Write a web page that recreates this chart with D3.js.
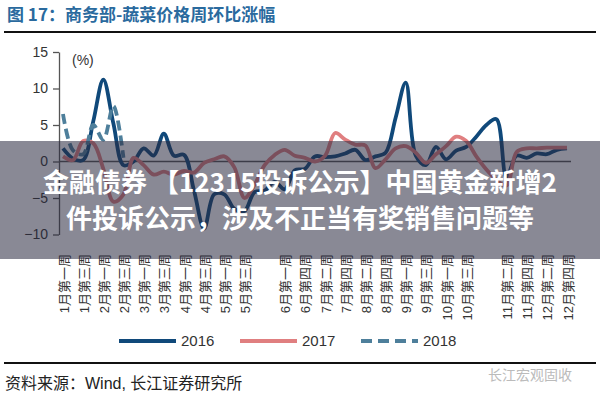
<!DOCTYPE html>
<html>
<head>
<meta charset="utf-8">
<script src="https://cdn.jsdelivr.net/npm/d3@7/dist/d3.min.js"></script>
<style>
  html, body { margin: 0; padding: 0; background: #fff; }
  svg { display: block; font-family: "Liberation Sans", Arial, "Noto Sans CJK SC", sans-serif; }
</style>
</head>
<body>
<svg id="chart" width="600" height="400"></svg>
<script>
// ---- data ----
const titleText = "图 17：商务部-蔬菜价格周环比涨幅";
const unitLabel = "(%)";
const sourceText = "资料来源：Wind, 长江证券研究所";
const watermarkText = "长江宏观固收";
const bannerLines = ["金融债券 【12315投诉公示】中国黄金新增2", "件投诉公示，涉及不正当有奖销售问题等"];

// weekly categories (index of week), labels shown on every second week
const weekIndex = d3.range(51);
const tickLabels = ["1月第一周","1月第三周","2月第一周","2月第三周","3月第一周","3月第三周",
  "4月第一周","4月第三周","5月第一周","5月第三周","","6月第一周","6月第四周","7月第二周",
  "7月第四周","8月第二周","8月第四周","9月第一周","9月第三周","10月第一周","10月第三周","",
  "11月第二周","11月第四周","12月第二周","12月第四周"];
const yTicks = [-10, -5, 0, 5, 10, 15];

const seriesNames = ["2016", "2017", "2018"];
const values2016 = [1.8, 0.4, 0.2, 5.5, 11.2, 5.2, -0.5, 0.0, 1.8, 0.8,
  3.8, 0.8, 0.9, -4.0, -9.2, -4.5, -4.5, -6.5, -6.8, -4.2,
  -4.0, -2.8, -3.8, -1.2, -1.0, 0.7, 0.6, 0.7, 1.1, 1.6,
  0.2, 0.7, 1.2, 6.0, 10.8, 0.8, -0.5, 2.0, 0.3, 1.5,
  2.0, 3.4, 5.0, 5.8, -2.2, 0.8, 0.5, 1.1, 1.0, 1.6, 1.8];
const values2017 = [0.7, 0.2, 2.8, 2.5, -1.0, -5.5, -4.5, 0.5, -0.5, -1.8,
  -1.4, -1.8, -1.3, -1.5, -0.2, 0.3, 0.7, -0.8, -5.0, -3.2,
  -0.5, 0.9, 1.6, 0.8, 0.5, 0.0, 0.8, 3.9, 3.0, 2.3,
  2.2, -0.9, 0.3, 1.8, 2.1, 1.2, -0.2, 1.0, 2.1, 3.4,
  2.8, 0.7, -1.1, -2.5, -3.3, 1.3, 1.8, 1.8, 1.9, 1.9, 1.9];
const values2018 = [6.5, 1.5, 1.0, 5.0, 3.0, 7.6, 0.5];

// ---- drawing ----
const svg = d3.select("#chart");
const colors = { "2016": "#10497a", "2017": "#e07f80", "2018": "#4e7f9b" };

const x = d3.scalePoint().domain(weekIndex).range([63, 567]);
const y = d3.scaleLinear().domain([-10, 15]).range([234.5, 52]);

// title
svg.append("text").attr("x", 7).attr("y", 21)
  .attr("font-size", 17).attr("font-weight", "bold").attr("fill", "#2a6a9e")
  .attr("font-family", "'Noto Sans CJK SC', sans-serif")
  .text(titleText);
svg.append("line").attr("x1", 4).attr("x2", 596).attr("y1", 32).attr("y2", 32)
  .attr("stroke", "#111").attr("stroke-width", 2);

// y axis
const yAxis = svg.append("g").attr("transform", "translate(59,0)")
  .call(d3.axisLeft(y).tickValues(yTicks).tickSize(6).tickSizeOuter(0).tickPadding(5)
        .tickFormat(d3.format("d")));
yAxis.selectAll("text").attr("font-size", 14).attr("fill", "#333")
  .attr("font-family", "'Liberation Sans', Arial, sans-serif");
yAxis.selectAll("line").attr("stroke", "#555").attr("stroke-width", 1.3);
yAxis.select(".domain").attr("stroke", "#555").attr("stroke-width", 1.3);

svg.append("text").attr("x", 72).attr("y", 65).attr("font-size", 14).attr("fill", "#333")
  .text(unitLabel);

// zero line
svg.append("line").attr("x1", 59).attr("x2", 571).attr("y1", y(0)).attr("y2", y(0))
  .attr("stroke", "#555").attr("stroke-width", 1.3);

// x tick labels (rotated)
const xLab = svg.append("g");
weekIndex.filter(i => i % 2 === 0).forEach(i => {
  const lbl = tickLabels[i / 2];
  if (!lbl) return;
  xLab.append("text")
    .attr("transform", `translate(${x(i) + 1},254) rotate(-90)`)
    .attr("text-anchor", "end").attr("dy", "0.35em")
    .attr("font-size", 13).attr("fill", "#333")
    .text(lbl);
});

// lines
const line = d3.line().x((d, i) => x(weekIndex[i])).y(d => y(d))
  .curve(d3.curveCatmullRom.alpha(0.5));
const seriesData = { "2016": values2016, "2017": values2017, "2018": values2018 };
seriesNames.forEach(name => {
  svg.append("path").datum(seriesData[name])
    .attr("d", line).attr("fill", "none")
    .attr("stroke", colors[name]).attr("stroke-width", 3.8)
    .attr("stroke-linejoin", "round")
    .attr("stroke-dasharray", name === "2018" ? "10,5" : null);
});

// legend
const legendX = [119, 240, 361];
seriesNames.forEach((name, k) => {
  const g = svg.append("g").attr("transform", `translate(${legendX[k]},341)`);
  g.append("line").attr("x1", 0).attr("x2", 57).attr("y1", 0).attr("y2", 0)
    .attr("stroke", colors[name]).attr("stroke-width", 4)
    .attr("stroke-dasharray", name === "2018" ? "11,6" : null);
  g.append("text").attr("x", 62).attr("y", 0).attr("dy", "0.35em")
    .attr("font-size", 15).attr("fill", "#333").text(name);
});

// bottom rule & source
svg.append("line").attr("x1", 4).attr("x2", 596).attr("y1", 363).attr("y2", 363)
  .attr("stroke", "#111").attr("stroke-width", 2);
svg.append("text").attr("x", 5).attr("y", 389).attr("font-size", 16).attr("fill", "#222")
  .text(sourceText);
svg.append("text").attr("x", 488).attr("y", 380).attr("font-size", 14).attr("fill", "#bbb")
  .text(watermarkText);

// overlay banner
svg.append("rect").attr("x", 0).attr("y", 141).attr("width", 600).attr("height", 118)
  .attr("fill", "rgba(40,40,62,0.55)");
bannerLines.forEach((t, k) => {
  svg.append("text").attr("x", 300).attr("y", 183 + k * 36).attr("dy", "0.35em")
    .attr("text-anchor", "middle").attr("font-size", 26).attr("font-weight", "bold")
    .attr("fill", "#fff").attr("font-family", "'Noto Sans CJK SC', sans-serif")
    .text(t);
});
</script>
</body>
</html>
